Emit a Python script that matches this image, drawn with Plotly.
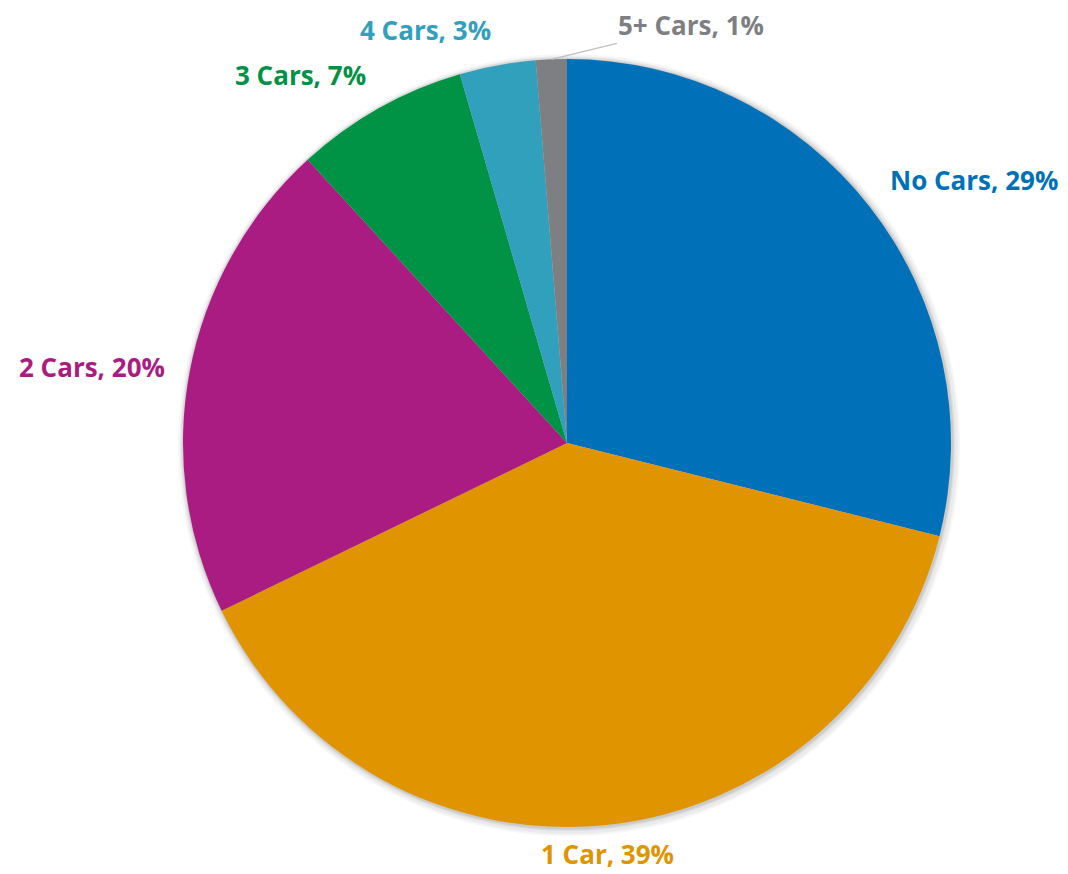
import math
import plotly.graph_objects as go

categories = ["No Cars", "1 Car", "2 Cars", "3 Cars", "4 Cars", "5+ Cars"]
shares = [28.9, 38.9, 20.4, 7.3, 3.2, 1.3]
colors = ["#0071B9", "#E09400", "#AB1C82", "#009245", "#31A0BD", "#7E7F83"]

W, H = 1060, 866
PAD = 10                      # room for the soft shadow ring
PIE = 768                     # pie diameter in px
SIDE = PIE + 2 * PAD
M_L, M_T = 175 - PAD, 51 - PAD
M_R, M_B = W - M_L - SIDE, H - M_T - SIDE
LABEL_GAP = 0.03 * PIE / SIDE       # radial gap for side labels
LABEL_GAP_LOW = 0.012 * PIE / SIDE  # radial gap for labels below the pie
R = 0.5 * PIE / SIDE

fig = go.Figure()

# soft shadow rings behind the pie
for grow, dx, alpha in [(7, 2, 0.035), (5, 2, 0.045), (3, 1, 0.06), (1.5, 1, 0.08)]:
    lo = (PAD - grow + dx) / SIDE
    hi = (PAD + PIE + grow + dx) / SIDE
    lo_y = (PAD - grow - dx) / SIDE
    hi_y = (PAD + PIE + grow - dx) / SIDE
    fig.add_trace(go.Pie(
        values=[1], labels=["shadow"], sort=False,
        marker=dict(colors=[f"rgba(0,0,0,{alpha})"], line=dict(width=0)),
        textinfo="none", hoverinfo="skip", showlegend=False,
        domain=dict(x=[max(lo, 0), min(hi, 1)], y=[max(lo_y, 0), min(hi_y, 1)]),
    ))

fig.add_trace(
    go.Pie(
        labels=categories,
        values=shares,
        sort=False,
        direction="clockwise",
        rotation=0,
        marker=dict(colors=colors, line=dict(width=0)),
        textinfo="none",
        hoverinfo="label+percent",
        showlegend=False,
        domain=dict(x=[PAD / SIDE, (PAD + PIE) / SIDE], y=[PAD / SIDE, (PAD + PIE) / SIDE]),
    )
)

total = sum(shares)
cum = 0.0
for name, v, c in zip(categories, shares, colors):
    mid = (cum + v / 2) / total * 2 * math.pi
    cum += v
    s, co = math.sin(mid), math.cos(mid)
    pct = round(v / total * 100)
    text = f"<b>{name}, {pct}%</b>"
    font = dict(family="Open Sans", size=26, color=c)
    if v / total < 0.02:
        # small slice: label pulled aside with a leader line
        fig.add_annotation(
            x=0.5 + R * s, y=0.5 + R * co, xref="paper", yref="paper",
            text=text, font=font, showarrow=True, arrowhead=0,
            arrowwidth=1.2, arrowcolor="#BFBFBF", ax=140, ay=-34,
            xanchor="center", yanchor="middle",
        )
        continue
    xa = "left" if s > 0.12 else ("right" if s < -0.12 else "center")
    ya = "bottom" if co > 0.3 else ("top" if co < -0.3 else "middle")
    r = R + (LABEL_GAP_LOW if ya == "top" else LABEL_GAP)
    fig.add_annotation(
        x=0.5 + r * s, y=0.5 + r * co, xref="paper", yref="paper",
        text=text, font=font, showarrow=False,
        xanchor=xa, yanchor=ya,
        yshift=-7 if ya == "bottom" else 0,
    )

fig.update_layout(
    width=W,
    height=H,
    paper_bgcolor="white",
    plot_bgcolor="white",
    margin=dict(l=M_L, r=M_R, t=M_T, b=M_B),
)

fig.write_html("out.html")
